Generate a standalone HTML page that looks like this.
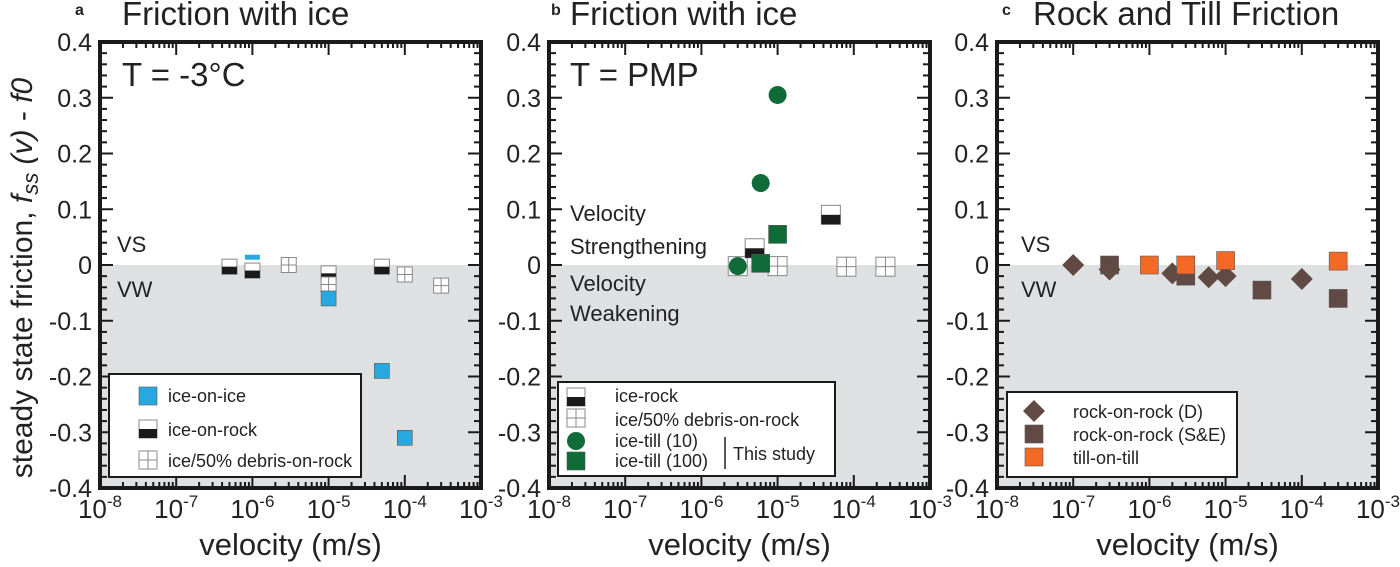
<!DOCTYPE html>
<html><head><meta charset="utf-8">
<style>
body{margin:0;background:#fff;}
svg{display:block;font-family:"Liberation Sans",Arial,sans-serif;}
</style></head>
<body>
<svg id="chart" width="1400" height="567" viewBox="0 0 1400 567"></svg>
<script>
// ---- data ----
const yTicks = [0.4,0.3,0.2,0.1,0,-0.1,-0.2,-0.3,-0.4];
const yTickLabels = ["0.4","0.3","0.2","0.1","0","-0.1","-0.2","-0.3","-0.4"];
const xDecades = [-8,-7,-6,-5,-4,-3];
const panelTitles = ["Friction with ice","Friction with ice","Rock and Till Friction"];
const panelLetters = ["a","b","c"];
// panel a
const aIceIceV = [1e-6,1e-5,5e-5,1e-4];
const aIceIceF = [0.005,-0.06,-0.19,-0.31];
const aIceRockV = [5e-7,1e-6,1e-5,5e-5];
const aIceRockF = [-0.003,-0.01,-0.015,-0.003];
const aDebrisV = [3e-6,1e-5,1e-4,3e-4];
const aDebrisF = [0.0,-0.035,-0.017,-0.037];
// panel b
const bIceRockV = [5e-6,5e-5];
const bIceRockF = [0.03,0.09];
const bDebrisV = [3e-6,1e-5,8e-5,2.6e-4];
const bDebrisF = [-0.002,-0.002,-0.003,-0.003];
const bTill10V = [3e-6,6e-6,1e-5];
const bTill10F = [-0.002,0.147,0.305];
const bTill100V = [1e-5,6e-6];
const bTill100F = [0.055,0.003];
// panel c
const cDiamondV = [1e-7,3e-7,2e-6,6e-6,1e-5,1e-4];
const cDiamondF = [0.0,-0.008,-0.015,-0.022,-0.02,-0.025];
const cSEV = [3e-7,3e-6,3e-5,3e-4];
const cSEF = [0.0,-0.02,-0.045,-0.06];
const cTillV = [1e-6,3e-6,1e-5,3e-4];
const cTillF = [0.0,0.0,0.008,0.007];

// ---- layout ----
const NS="http://www.w3.org/2000/svg";
const svg=document.getElementById('chart');
const panelsX=[100,549,997];
const W=381, TOP=42, BOT=488;
function yS(v){return TOP+(0.4-v)/0.8*(BOT-TOP);}
function xS(p,v){return panelsX[p]+(Math.log10(v)+8)/5*W;}
function mk(tag,attrs,parent){const e=document.createElementNS(NS,tag);for(const k in attrs)e.setAttribute(k,attrs[k]);(parent||svg).appendChild(e);return e;}
function txt(s,attrs,parent){const e=mk('text',attrs,parent);e.textContent=s;return e;}

const BLUE="#29a8e0", GREEN="#0f6b37", BROWN="#614a43", ORANGE="#f26a25";

function halfSq(g,cx,cy,s){
  mk('rect',{x:cx-s/2,y:cy-s/2,width:s,height:s,fill:'#fff',stroke:'#888','stroke-width':1},g);
  mk('rect',{x:cx-s/2,y:cy,width:s,height:s/2,fill:'#1a1a1a'},g);
}
function gridSq(g,cx,cy,s){
  mk('rect',{x:cx-s/2,y:cy-s/2,width:s,height:s,fill:'#fff',stroke:'#888','stroke-width':1},g);
  mk('line',{x1:cx,y1:cy-s/2,x2:cx,y2:cy+s/2,stroke:'#888','stroke-width':1},g);
  mk('line',{x1:cx-s/2,y1:cy,x2:cx+s/2,y2:cy,stroke:'#888','stroke-width':1},g);
}
function fillSq(g,cx,cy,s,c){mk('rect',{x:cx-s/2,y:cy-s/2,width:s,height:s,fill:c,stroke:'#555','stroke-width':0.6},g);}
function circ(g,cx,cy,r,c){mk('circle',{cx:cx,cy:cy,r:r,fill:c},g);}
function diamond(g,cx,cy,r,c){mk('polygon',{points:`${cx},${cy-r} ${cx+r},${cy} ${cx},${cy+r} ${cx-r},${cy}`,fill:c},g);}

const letterX=[75,551,1002], titleX=[122,570,1033];
for(let p=0;p<3;p++){
  const x0=panelsX[p], x1=x0+W;
  const pg=mk('g',{});
  
  
  const sh=mk('rect',{x:x0,y:yS(0),width:W,height:BOT-yS(0),fill:'#dfe0e2'},pg);
  
  
  const tg=mk('g',{stroke:'#1a1a1a','stroke-width':2},pg);
  
  
  for(let d=-8;d<-3;d++){
    for(let m=1;m<10;m++){
      const xx=xS(p,m*Math.pow(10,d));
      const L=m===1?13:6;
      if(m===1&&d===-8)continue;
      mk('line',{x1:xx,y1:TOP,x2:xx,y2:TOP+L},tg);
      mk('line',{x1:xx,y1:BOT,x2:xx,y2:BOT-L},tg);
    }
  }
  for(let i=0;i<=40;i++){
    const v=0.4-i*0.02, yy=yS(v);
    const L=(i%5===0)?13:7;
    mk('line',{x1:x0,y1:yy,x2:x0+L,y2:yy},tg);
    mk('line',{x1:x1,y1:yy,x2:x1-L,y2:yy},tg);
  }
  const fr=mk('rect',{x:x0,y:TOP,width:W,height:BOT-TOP,fill:'none',stroke:'#1a1a1a','stroke-width':4},pg);
  
  
  yTicks.forEach((v,i)=>{
    const t=txt(yTickLabels[i],{x:x0-8,y:yS(v)+9,'text-anchor':'end','font-size':25,fill:'#222'},pg);
    
    
  });
  xDecades.forEach(d=>{
    const t=mk('text',{x:xS(p,Math.pow(10,d)),y:518,'text-anchor':'middle','font-size':26,fill:'#222'},pg);
    
    
    const a=mk('tspan',{},t);a.textContent='10';
    const b=mk('tspan',{dy:-11,'font-size':17},t);b.textContent=String(d);
  });
  const xl=txt('velocity (m/s)',{x:x0+W/2,y:555,'text-anchor':'middle','font-size':31,fill:'#222'},pg);
  
  
  const lt=txt(panelLetters[p],{x:letterX[p],y:15,'font-size':16,'font-weight':'bold',fill:'#222'},pg);
  
  
  const tt=txt(panelTitles[p],{x:titleX[p],y:25,'font-size':33,fill:'#222'},pg);
  
  
}

const yt=mk('text',{transform:'translate(32,278) rotate(-90)','text-anchor':'middle','font-size':30,fill:'#222'});


yt.innerHTML='steady state friction, <tspan font-style="italic">f</tspan><tspan font-style="italic" font-size="22" dy="6">ss</tspan><tspan dy="-6" font-style="italic"> (v)</tspan> - <tspan font-style="italic">f0</tspan>';

function note(s,x,y,fs,name){const t=txt(s,{x:x,y:y,'font-size':fs,fill:'#222'});}
note('T = -3°C',122,86,33,'temperature-label');
note('VS',117,252,22,'vs-label');
note('VW',117,297,22,'vw-label');
note('T = PMP',570,86,33,'temperature-label');
note('Velocity',570,221,22,'vs-label');
note('Strengthening',570,254,22,'vs-label');
note('Velocity',570,291,22,'vw-label');
note('Weakening',570,321,22,'vw-label');
note('VS',1021,252,22,'vs-label');
note('VW',1021,297,22,'vw-label');

function series(name,p,V,F,draw){
  const g=mk('g',{});
  
  
  V.forEach((v,i)=>{const m=mk('g',{},g);draw(m,xS(p,v),yS(F[i]));});
}
const S=15;
series('series-ice-on-rock-a',0,aIceRockV,aIceRockF,(g,x,y)=>halfSq(g,x,y,S));
series('series-debris-a',0,aDebrisV,aDebrisF,(g,x,y)=>gridSq(g,x,y,S));
series('series-ice-on-ice-a',0,aIceIceV.slice(1),aIceIceF.slice(1),(g,x,y)=>fillSq(g,x,y,S,BLUE));
(function(){const g=mk('g',{});
 const x=xS(0,aIceIceV[0]),y=yS(aIceIceF[0]);mk('rect',{x:x-S/2,y:y-S/2,width:S,height:5,fill:BLUE},g);})();

series('series-debris-b',1,bDebrisV,bDebrisF,(g,x,y)=>gridSq(g,x,y,S+4));
series('series-ice-rock-b',1,bIceRockV,bIceRockF,(g,x,y)=>halfSq(g,x,y,S+4));
series('series-ice-till-100',1,bTill100V,bTill100F,(g,x,y)=>fillSq(g,x,y,S+3,GREEN));
series('series-ice-till-10',1,bTill10V,bTill10F,(g,x,y)=>circ(g,x,y,9,GREEN));

series('series-rock-d',2,cDiamondV,cDiamondF,(g,x,y)=>diamond(g,x,y,11,BROWN));
series('series-rock-se',2,cSEV,cSEF,(g,x,y)=>fillSq(g,x,y,18,BROWN));
series('series-till-on-till',2,cTillV,cTillF,(g,x,y)=>fillSq(g,x,y,18,ORANGE));

function legendBox(name,x,y,w,h){const g=mk('g',{});
 mk('rect',{x:x,y:y,width:w,height:h,fill:'#fff',stroke:'#1a1a1a','stroke-width':2},g);return g;}
function legText(g,s,x,y){const t=txt(s,{x:x,y:y,'font-size':18,fill:'#222'},g);}
let lg=legendBox('legend-a',109,374,252,103);
fillSq(lg,148,396,18,BLUE);legText(lg,'ice-on-ice',168,402);
halfSq(lg,148,429,18);legText(lg,'ice-on-rock',168,436);
gridSq(lg,148,460,18);legText(lg,'ice/50% debris-on-rock',168,467);
lg=legendBox('legend-b',558,382,277,94);
halfSq(lg,576,397,18);legText(lg,'ice-rock',615,402);
gridSq(lg,576,418,18);legText(lg,'ice/50% debris-on-rock',615,426);
circ(lg,576,441,9,GREEN);legText(lg,'ice-till (10)',615,447);
fillSq(lg,576,461,18,GREEN);legText(lg,'ice-till (100)',615,467);
mk('line',{x1:725,y1:437,x2:725,y2:469,stroke:'#222','stroke-width':1.5},lg);
legText(lg,'This study',733,460);
lg=legendBox('legend-c',1007,392,230,85);
diamond(lg,1034,411,11,BROWN);legText(lg,'rock-on-rock (D)',1073,418);
fillSq(lg,1034,434,18,BROWN);legText(lg,'rock-on-rock (S&E)',1073,441);
fillSq(lg,1034,457,18,ORANGE);legText(lg,'till-on-till',1073,464);
</script>
</body></html>
